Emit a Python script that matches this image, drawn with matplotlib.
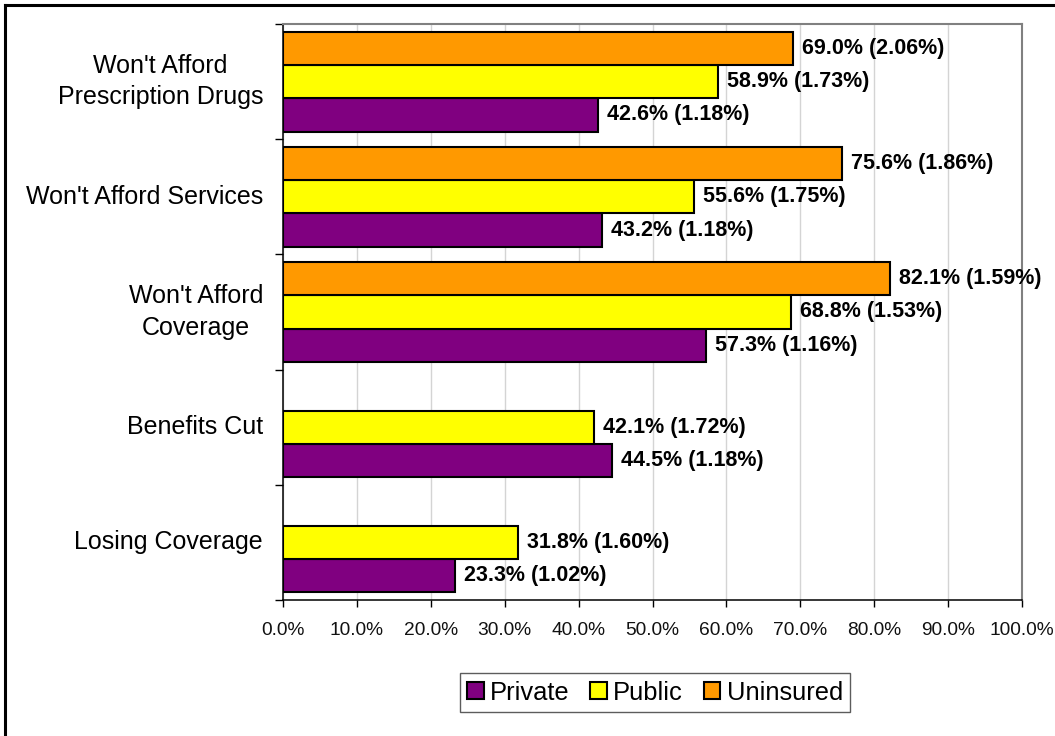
import matplotlib
matplotlib.use("Agg")
import matplotlib.pyplot as plt
from matplotlib.lines import Line2D
from matplotlib.patches import Patch
import numpy as np

categories = ["Won't Afford\nPrescription Drugs", "Won't Afford Services",
              "Won't Afford\nCoverage", "Benefits Cut", "Losing Coverage"]
series_names = ["Private", "Public", "Uninsured"]
private = [42.6, 43.2, 57.3, 44.5, 23.3]
private_se = [1.18, 1.18, 1.16, 1.18, 1.02]
public = [58.9, 55.6, 68.8, 42.1, 31.8]
public_se = [1.73, 1.75, 1.53, 1.72, 1.60]
uninsured = [69.0, 75.6, 82.1, None, None]
uninsured_se = [2.06, 1.86, 1.59, None, None]
colors = ["#800080", "#FFFF00", "#FF9900"]
x_ticks = [0, 10, 20, 30, 40, 50, 60, 70, 80, 90, 100]

fig = plt.figure(figsize=(10.55, 7.36), dpi=100)
ax = fig.add_axes([283/1055, 1-600/736, (1022-283)/1055, (600-24)/736])

y = np.arange(len(categories))
w = 0.289
offsets = [w, 0.0, -w]  # private bottom, public middle, uninsured top (axis inverted)
all_vals = [private, public, uninsured]
all_se = [private_se, public_se, uninsured_se]

for vals, ses, off, col in zip(all_vals, all_se, offsets, colors):
    for i, (v, s) in enumerate(zip(vals, ses)):
        if v is None:
            continue
        ax.barh(y[i] + off, v, height=w, color=col, edgecolor="black",
                linewidth=1.5, zorder=3)
        ax.annotate(f"{v:.1f}% ({s:.2f}%)", xy=(v, y[i] + off),
                    xytext=(6.5, 0), textcoords="offset points",
                    ha="left", va="center", fontsize=15.5, fontweight="bold",
                    family=["Liberation Sans", "DejaVu Sans"], zorder=4)

ax.set_xlim(0, 100)
ax.set_ylim(len(categories) - 0.5, -0.5)
ax.set_xticks(x_ticks)
ax.set_xticklabels([f"{t:.1f}%" for t in x_ticks],
                   family=["Liberation Sans Narrow", "Liberation Sans", "DejaVu Sans"],
                   fontsize=13.8, color="#111111")
ax.set_yticks(np.arange(-0.5, len(categories), 1.0))
ax.set_yticklabels([])
ax.tick_params(axis="y", direction="out", length=5.8, width=1.0, color="black")
ax.tick_params(axis="x", direction="out", length=5, width=1.0, color="black", pad=11)

for i, c in enumerate(categories):
    ax.text(-0.027, 1 - (i + 0.5) / len(categories), c, transform=ax.transAxes,
            ha="right", va="center", multialignment="center", fontsize=18,
            family=["Liberation Sans", "DejaVu Sans"], linespacing=1.4)

ax.xaxis.grid(True, color="#d4d4d4", linewidth=1.0, zorder=0)
ax.set_axisbelow(True)
for side in ["top", "right"]:
    ax.spines[side].set_color("#808080")
    ax.spines[side].set_linewidth(1.5)
for side in ["left", "bottom"]:
    ax.spines[side].set_color("black")
    ax.spines[side].set_linewidth(1.1)

handles = [Patch(facecolor=c, edgecolor="black", linewidth=1.5) for c in colors]
leg = fig.legend(handles, series_names, loc="center", bbox_to_anchor=(655/1055, 1-692.5/736),
                 ncol=3, fontsize=18.4, frameon=True, fancybox=False,
                 handlelength=0.65, handleheight=0.65, handletextpad=0.25,
                 columnspacing=0.8, borderpad=0.3,
                 prop={"family": ["Liberation Sans", "DejaVu Sans"], "size": 18.4})
leg.get_frame().set_edgecolor("#333333")
leg.get_frame().set_linewidth(1.0)

fig.add_artist(Line2D([5/1055, 5/1055], [0, 1-5/736], color="black", linewidth=2.2,
                      transform=fig.transFigure))
fig.add_artist(Line2D([5/1055, 1], [1-5/736, 1-5/736], color="black", linewidth=2.2,
                      transform=fig.transFigure))

fig.savefig("out.png", dpi=100, facecolor="white")
